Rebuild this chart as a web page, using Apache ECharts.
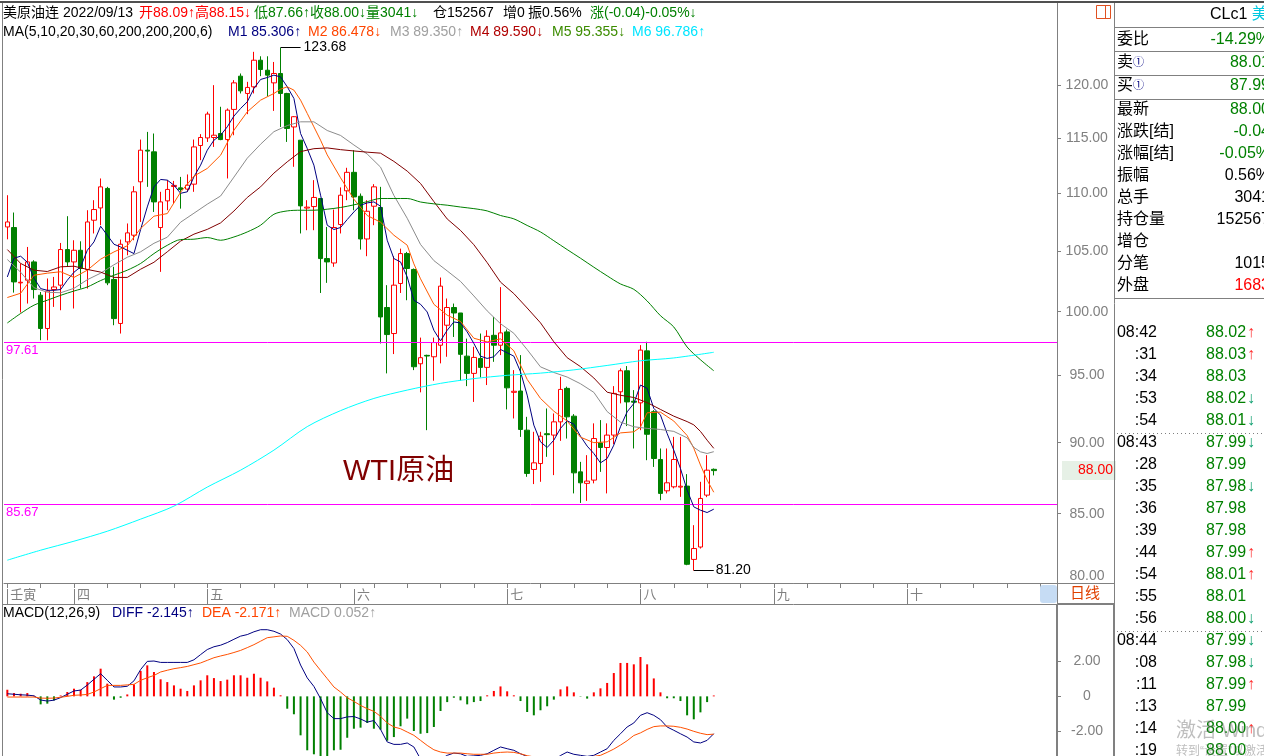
<!DOCTYPE html>
<html><head><meta charset="utf-8">
<script src="https://cdn.jsdelivr.net/npm/echarts@6/dist/echarts.min.js"></script>
<style>html,body{margin:0;padding:0;background:#fff;overflow:hidden}#c{width:1264px;height:756px}</style>
</head><body><div id="c"></div>
<script>
// ---------------- DATA ----------------
const slotCount = 158;
const monthLabels = {0:'壬寅', 10:'四', 30:'五', 52:'六', 75:'七', 95:'八', 115:'九', 135:'十'};
const priceTicks = [85, 90, 95, 100, 105, 110, 115, 120];
const macdTicks = [-2, 0, 2];

const openP = [107.06,107.01,102.35,102.57,104.09,101.34,98.66,101.80,102.16,105.13,104.09,105.07,103.46,107.64,108.71,110.43,102.63,99.06,105.78,106.35,
111.02,113.88,113.73,107.01,109.33,110.60,110.48,110.37,110.81,114.31,115.01,115.05,115.42,114.86,117.68,120.87,119.20,119.84,122.43,121.45,
120.22,121.13,119.20,116.03,114.80,108.70,108.83,109.54,104.37,104.00,107.27,110.22,111.87,109.74,106.03,108.86,108.75,100.34,98.26,102.30,
104.79,103.46,95.90,96.55,96.44,97.34,98.92,100.34,99.90,96.49,95.16,96.31,95.62,98.12,97.34,98.39,93.72,93.82,90.91,88.08,
88.50,90.65,90.55,91.52,94.02,91.94,87.91,87.10,87.33,89.98,89.65,90.55,93.76,95.36,93.05,92.93,96.90,92.27,88.79,86.58,
86.86,86.84,86.91,81.93,82.75,86.28,88.09];
const closeP = [107.49,102.43,102.40,104.09,101.80,98.66,101.68,102.01,105.13,104.09,105.07,103.54,107.49,108.57,110.57,102.35,99.45,105.58,106.55,110.13,
113.88,113.80,109.24,109.24,110.34,110.70,110.34,110.72,114.18,115.05,117.24,115.26,114.86,117.61,120.22,119.45,119.78,122.43,121.52,120.97,
121.13,119.20,115.89,116.99,108.89,108.78,109.63,104.37,104.09,107.01,109.83,111.87,109.68,106.03,108.42,110.57,99.58,98.18,102.16,104.79,
103.54,95.67,96.37,96.50,97.55,102.08,100.34,99.90,96.63,95.16,96.39,95.62,98.04,97.34,98.31,94.06,93.80,90.96,87.80,88.55,
90.47,90.58,91.52,93.94,91.89,87.84,87.14,87.26,90.30,89.65,90.55,93.64,95.36,93.00,92.98,96.96,90.61,88.86,86.40,87.14,
88.79,86.90,81.61,82.65,86.05,88.03,88.00];
const lowP = [106.00,101.55,99.94,100.66,101.07,97.73,97.73,100.39,100.12,103.68,100.26,101.88,101.88,106.50,107.21,102.16,98.92,98.26,104.65,105.92,
107.49,110.57,108.36,103.26,108.51,109.10,108.65,110.13,110.13,112.97,114.64,114.18,114.80,111.32,115.26,119.20,117.23,119.20,120.87,118.94,
117.54,116.03,114.64,112.37,106.50,106.78,106.78,101.52,102.35,103.68,106.50,109.39,108.51,105.13,104.57,107.21,97.48,95.16,96.65,101.52,
100.93,95.41,93.72,90.91,94.60,95.93,96.44,97.99,94.60,94.19,93.00,94.85,94.27,96.05,96.57,92.44,91.77,90.42,87.56,87.05,
87.21,88.98,87.68,90.13,90.30,86.40,85.74,85.88,87.10,87.91,86.40,89.89,92.89,91.21,89.58,90.91,88.74,88.26,85.93,86.40,
86.75,86.16,81.55,81.20,82.65,86.14,87.66];
const highP = [109.83,108.31,103.96,105.35,104.23,101.60,102.71,102.84,105.69,107.99,105.92,105.83,108.51,109.39,111.32,110.57,103.68,105.98,107.36,110.63,
114.86,115.57,115.42,110.13,111.17,111.10,111.46,111.68,114.86,115.36,117.46,120.00,117.93,117.77,120.48,121.13,120.32,123.26,122.82,122.82,
122.26,123.68,119.26,117.05,114.80,109.39,111.17,109.54,107.06,108.57,110.52,112.28,113.88,109.98,109.39,110.81,110.57,102.16,104.57,105.21,
104.93,103.54,97.94,96.60,97.94,102.79,101.07,100.66,99.90,97.86,97.22,98.26,98.52,99.58,102.00,98.58,95.41,96.57,91.89,90.79,
90.79,92.51,92.14,94.90,94.15,92.09,88.62,89.10,91.41,91.65,91.41,94.19,95.54,95.72,93.89,97.35,97.61,92.39,89.58,89.58,
90.42,90.42,87.75,84.22,87.21,89.10,88.15];

const ma5 = [102.84,104.40,104.57,104.06,102.74,101.88,101.74,101.74,101.80,102.57,103.23,103.67,105.07,105.78,107.12,106.35,105.58,105.35,105.07,104.79,
106.84,108.80,110.57,111.23,111.17,110.72,110.00,110.13,111.47,112.52,113.88,114.80,115.26,116.04,117.05,117.77,118.40,119.68,120.55,120.74,
120.97,120.80,119.84,118.72,115.42,114.04,112.52,109.83,107.21,106.84,107.01,107.70,108.36,108.95,109.15,109.24,108.86,105.92,104.37,104.09,
102.84,100.93,100.60,99.98,98.52,97.68,98.52,99.18,99.10,98.39,97.48,96.49,96.31,96.44,97.01,96.75,96.49,95.28,93.51,91.28,
90.06,89.65,90.18,91.04,91.60,91.35,90.47,89.75,89.22,88.55,88.86,89.82,91.16,92.26,92.88,94.27,94.02,92.52,92.02,90.67,
89.46,88.15,86.63,85.47,85.24,85.08,85.31];
// [candle index, value] read at sampled candles
const ma10 = [[0,101.15],[2,101.50],[4,102.98],[6,103.15],[8,103.27],[10,102.80],[12,103.40],[14,104.32],[16,104.93],[18,105.45],[20,106.93],[22,107.99],[24,108.22],[26,110.10],[28,111.53],[30,112.22],[32,113.42],[34,115.73],[36,117.45],[38,118.56],[40,119.20],[41,119.61],[42,119.84],[43,119.52],[44,118.56],[45,117.30],[46,116.04],[47,114.80],[48,113.45],[50,111.38],[52,109.48],[54,108.05],[56,107.47],[58,106.35],[60,105.50],[61,103.93],[62,102.68],[64,100.60],[66,99.72],[68,99.22],[70,97.89],[72,97.60],[74,97.84],[76,96.91],[78,94.70],[80,93.26],[82,92.31],[84,91.58],[86,90.40],[88,90.00],[90,90.06],[92,90.71],[94,90.79],[95,91.13],[96,92.19],[98,92.24],[100,91.58],[102,90.52],[103,89.60],[104,88.40],[105,87.33],[106,86.48]];
const ma20 = [[0,104.29],[2,103.23],[4,101.95],[6,101.58],[8,101.54],[10,101.90],[12,102.61],[14,103.15],[16,103.85],[18,104.48],[20,104.94],[22,105.66],[24,106.18],[26,107.47],[28,108.25],[30,109.04],[32,109.76],[34,111.44],[36,113.15],[38,114.43],[40,115.59],[42,116.16],[44,116.51],[46,116.51],[48,115.70],[50,115.24],[52,114.36],[54,113.53],[56,112.34],[58,109.81],[60,107.81],[62,105.56],[64,104.20],[66,103.34],[68,102.47],[70,101.28],[72,100.07],[74,99.04],[76,98.28],[78,97.00],[80,95.66],[82,95.23],[84,94.88],[86,94.37],[88,93.72],[90,92.28],[92,91.50],[94,91.16],[96,91.04],[98,90.96],[100,90.82],[102,90.35],[103,89.66],[104,89.34],[105,89.22],[106,89.35]];
const ma30 = [[0,105.13],[2,103.96],[4,103.40],[6,103.29],[8,103.68],[10,103.73],[12,103.46],[14,103.24],[16,102.80],[18,102.80],[20,103.48],[22,104.06],[24,104.94],[26,105.85],[28,106.44],[30,106.85],[32,107.41],[34,108.44],[36,109.63],[38,110.57],[40,111.80],[42,112.82],[44,113.75],[46,114.02],[48,114.09],[50,113.93],[52,113.81],[54,113.70],[56,113.61],[58,112.86],[60,111.98],[62,110.87],[64,109.27],[66,107.75],[68,106.76],[70,105.54],[72,104.03],[74,102.41],[76,101.47],[78,100.30],[80,99.11],[82,97.61],[84,96.37],[86,95.68],[88,94.81],[90,93.73],[92,93.50],[94,93.33],[96,92.95],[98,92.44],[100,91.94],[102,91.54],[103,91.30],[104,90.82],[105,90.18],[106,89.59]];
const ma60 = [[0,99.10],[2,99.86],[4,100.53],[6,100.93],[8,101.33],[10,101.68],[12,102.01],[14,102.54],[16,102.98],[18,103.40],[20,103.96],[22,104.79],[24,105.49],[26,105.98],[28,106.01],[30,106.15],[32,105.92],[34,106.20],[36,106.63],[38,107.21],[40,108.16],[42,108.45],[44,108.51],[46,108.51],[48,108.60],[50,108.75],[52,108.98],[54,109.26],[56,109.54],[58,109.54],[60,109.54],[62,109.23],[64,109.07],[66,108.95],[68,108.79],[70,108.65],[72,108.45],[74,108.05],[76,107.76],[78,107.19],[80,106.63],[82,105.88],[84,105.13],[86,104.40],[88,103.65],[90,102.93],[92,102.26],[94,101.82],[96,100.87],[98,99.68],[100,98.78],[102,97.20],[104,96.21],[106,95.36]];
const ma200 = [[0,81.88],[5,82.54],[10,83.14],[15,83.81],[20,84.63],[25,85.52],[30,86.84],[35,88.03],[40,89.46],[45,91.17],[50,92.35],[55,93.26],[60,93.89],[65,94.40],[70,94.76],[75,95.01],[80,95.18],[85,95.43],[90,95.77],[95,96.13],[100,96.35],[106,96.79]];

const macdHist = [0.38,0.19,0.15,0.19,0.03,-0.46,-0.42,-0.23,0.05,0.25,0.44,0.38,0.82,1.15,1.59,0.73,-0.19,-0.08,0.11,0.69,
1.46,1.78,1.40,0.98,0.82,0.63,0.44,0.31,0.63,0.92,1.21,1.05,0.88,0.96,1.21,1.21,1.07,1.30,1.07,0.86,
0.50,0.06,-0.71,-1.03,-2.24,-3.10,-3.33,-3.45,-3.45,-3.10,-3.07,-2.38,-1.86,-1.80,-1.53,-1.86,-1.92,-2.55,-2.34,-1.72,
-1.28,-1.99,-2.15,-2.11,-1.76,-0.84,-0.33,-0.08,-0.23,-0.46,-0.33,-0.27,0.06,0.31,0.57,0.29,0.06,-0.27,-0.90,-1.09,
-0.80,-0.57,-0.19,0.40,0.57,0.23,-0.02,-0.13,0.23,0.46,0.77,1.34,1.92,1.92,1.84,2.26,1.84,1.03,0.23,-0.11,
-0.11,-0.27,-1.09,-1.32,-0.92,-0.33,0.05];
const diff = [0.15,0.12,0.09,0.07,0.03,-0.21,-0.27,-0.22,-0.07,0.12,0.31,0.36,0.65,0.98,1.30,0.92,0.54,0.54,0.58,0.89,
1.54,2.01,2.03,1.95,1.95,1.95,1.95,1.95,2.10,2.40,2.69,2.85,2.94,3.09,3.28,3.46,3.55,3.71,3.83,3.83,
3.74,3.58,3.26,2.75,1.80,1.06,0.57,-0.13,-0.94,-1.28,-1.28,-1.18,-1.16,-1.30,-1.48,-1.39,-1.90,-2.62,-2.76,-2.76,
-2.68,-2.91,-3.60,-3.87,-3.95,-3.62,-3.39,-3.26,-3.30,-3.45,-3.42,-3.39,-3.30,-3.10,-2.91,-3.01,-3.10,-3.30,-3.45,-3.90,
-3.92,-3.86,-3.68,-3.40,-3.20,-3.33,-3.39,-3.45,-3.39,-3.20,-3.01,-2.53,-2.15,-1.76,-1.53,-1.09,-0.94,-1.09,-1.34,-1.76,
-1.95,-2.15,-2.34,-2.62,-2.68,-2.53,-2.145];
const dea = [-0.04,-0.04,-0.04,-0.04,-0.04,-0.10,-0.11,-0.10,-0.05,0.00,0.06,0.08,0.11,0.25,0.44,0.63,0.63,0.63,0.66,0.69,
0.92,1.07,1.20,1.40,1.50,1.59,1.65,1.72,1.82,1.92,2.07,2.22,2.32,2.41,2.52,2.64,2.80,2.97,3.17,3.37,
3.42,3.47,3.45,3.22,2.93,2.55,1.97,1.49,1.02,0.54,0.25,-0.08,-0.29,-0.52,-0.71,-0.86,-1.15,-1.53,-1.76,-1.86,
-2.05,-2.24,-2.53,-2.82,-3.07,-3.20,-3.26,-3.26,-3.26,-3.30,-3.33,-3.33,-3.33,-3.26,-3.22,-3.20,-3.22,-3.30,-3.41,-3.48,
-3.54,-3.58,-3.60,-3.58,-3.55,-3.52,-3.50,-3.48,-3.45,-3.39,-3.22,-3.03,-2.80,-2.55,-2.25,-2.10,-1.90,-1.74,-1.70,-1.70,
-1.72,-1.78,-1.88,-2.01,-2.12,-2.20,-2.171];

const supportLevels = [97.61, 85.67];
const lastPrice = 88.00;
const peak = {idx: 41, value: 123.68};
const trough = {idx: 103, value: 81.20};

// ---------------- BUILD ----------------
const F = "'Liberation Sans', Arial, 'Noto Sans CJK SC', sans-serif";
const categories = Array.from({length: slotCount}, (_, i) => String(i));
const kData = openP.map((o, i) => [o, closeP[i], lowP[i], highP[i]]);
const GRAY = '#808080';

function T(x, y, text, fill, size, align, rich) {
  const st = {text, fill, font: size + 'px ' + F, align: align || 'left', verticalAlign: 'middle',
    textAlign: align || 'left', textVerticalAlign: 'middle'};
  if (rich) st.rich = rich;
  return {type: 'text', x, y, z: 100, silent: true, style: st};
}
function L(x1, y1, x2, y2, stroke, lw, dash) {
  const st = {stroke: stroke || GRAY, lineWidth: lw || 1};
  if (dash) st.lineDash = dash;
  return {type: 'line', z: 90, silent: true, shape: {x1, y1, x2, y2}, style: st};
}
function maLine(name, pairs, color, smooth) {
  return {name, type: 'line', xAxisIndex: 0, yAxisIndex: 0, data: pairs, symbol: 'none',
    smooth: smooth || false, connectNulls: true, z: 5,
    lineStyle: {color, width: 1}, itemStyle: {color}, emphasis: {disabled: true}};
}

const graphics = [];
// header row 1
graphics.push(T(3, 13, '美原油连', '#000', 14));
graphics.push(T(63, 13, '2022/09/13', '#000', 14));
graphics.push(T(139, 13, '开88.09↑高88.15↓', '#ff0000', 14));
graphics.push(T(254, 13, '低87.66↑收88.00↓量3041↓', '#008000', 14));
graphics.push(T(433, 13, '仓152567', '#000', 14));
graphics.push(T(503, 13, '增0', '#000', 14));
graphics.push(T(528, 13, '振0.56%', '#000', 14));
graphics.push(T(590, 13, '涨(-0.04)-0.05%↓', '#008000', 14));
// header row 2
graphics.push(T(3, 32, 'MA(5,10,20,30,60,200,200,200,6)', '#000', 14));
graphics.push(T(228, 32, 'M1 85.306↑', '#000080', 14));
graphics.push(T(308, 32, 'M2 86.478↓', '#ff4500', 14));
graphics.push(T(390, 32, 'M3 89.350↑', '#a0a0a0', 14));
graphics.push(T(470, 32, 'M4 89.590↓', '#b00000', 14));
graphics.push(T(552, 32, 'M5 95.355↓', '#3c8c00', 14));
graphics.push(T(632, 32, 'M6 96.786↑', '#00e5ff', 14));
// MACD header
graphics.push(T(3, 613, 'MACD(12,26,9)', '#000', 14));
graphics.push(T(112, 613, 'DIFF -2.145↑', '#000080', 14));
graphics.push(T(202, 613, 'DEA -2.171↑', '#ff4500', 14));
graphics.push(T(289, 613, 'MACD 0.052↑', '#a0a0a0', 14));
// chart title
graphics.push(T(343, 472, 'WTI原油', '#800000', 29));
// clamped bottom price label
graphics.push(T(1087, 576, '80.00', GRAY, 14, 'center'));
graphics.push(T(1070, 594, '日线', '#e04000', 15));
graphics.push({type: 'rect', z: 90, silent: true, shape: {x: 1040, y: 585, width: 17, height: 18, r: 3}, style: {fill: '#c6dcf4'}});
// small icon
graphics.push({type: 'rect', z: 90, silent: true, shape: {x: 1096.5, y: 5.5, width: 14, height: 13}, style: {fill: 'none', stroke: '#e05020', lineWidth: 1}});
graphics.push(L(1105.5, 5.5, 1105.5, 18.5, '#e05020', 1));
// frame lines
graphics.push(L(0, 2, 1264, 2, '#505050', 2));
graphics.push(L(2.5, 3, 2.5, 756, GRAY, 1));
graphics.push(L(3, 604.5, 1057, 604.5, GRAY, 1));
graphics.push(L(1057, 583.5, 1114, 583.5, GRAY, 1));
graphics.push(L(1057.5, 583, 1057.5, 604, GRAY, 1));
graphics.push(L(1114.5, 3, 1114.5, 604, GRAY, 1));
graphics.push(L(1057, 604, 1115, 604, GRAY, 2));
graphics.push(L(1057, 604, 1057, 756, GRAY, 2));
graphics.push(L(1114, 604, 1114, 756, GRAY, 2));
// right info table
[27.5, 51.5, 75.5, 99.5, 298.5].forEach(y => graphics.push(L(1114, y, 1264, y, GRAY, 1)));
graphics.push(T(1210, 15, 'CLc1 {c|美原油连}', '#000', 16, 'left', {c: {fill: '#00c8e0', font: '16px ' + F}}));
const circ = {c: {fill: '#000080', font: '11px ' + F}};
const infoRows = [
  [40, '委比', '-14.29%', '#008000'], [63, '卖{c|①}', '88.01', '#008000'], [86, '买{c|①}', '87.99', '#008000'],
  [110, '最新', '88.00', '#008000'], [132, '涨跌[结]', '-0.04', '#008000'], [154, '涨幅[结]', '-0.05%', '#008000'],
  [176, '振幅', '0.56%', '#000'], [198, '总手', '3041', '#000'], [220, '持仓量', '152567', '#000'],
  [242, '增仓', '', '#000'], [264, '分笔', '1015', '#000'], [286, '外盘', '1683', '#ff0000']
];
infoRows.forEach(r => {
  graphics.push(T(1117, r[0], r[1], '#000', 16, 'left', circ));
  if (r[2]) graphics.push(T(1270, r[0], r[2], r[3], 16, 'right'));
});
// time & sales
const ticksList = [
  ['08:42','88.02','u'],[':31','88.03','u'],[':34','88.03',''],[':53','88.02','d'],[':54','88.01','d'],
  ['08:43','87.99','d'],[':28','87.99',''],[':35','87.98','d'],[':36','87.98',''],[':39','87.98',''],
  [':44','87.99','u'],[':54','88.01','u'],[':55','88.01',''],[':56','88.00','d'],
  ['08:44','87.99','d'],[':08','87.98','d'],[':11','87.99','u'],[':13','87.99',''],[':14','88.00','u'],[':19','88.00','']
];
ticksList.forEach((r, i) => {
  const y = 333 + i * 22;
  graphics.push(T(1157, y, r[0], '#000', 16, 'right'));
  graphics.push(T(1206, y, r[1], '#008000', 16));
  if (r[2] === 'u') graphics.push(T(1247, y, '↑', '#ff3030', 16));
  if (r[2] === 'd') graphics.push(T(1247, y, '↓', '#10a070', 16));
});
graphics.push(L(1117, 433.5, 1264, 433.5, GRAY, 1, [1, 3]));
graphics.push(L(1117, 631.5, 1264, 631.5, GRAY, 1, [1, 3]));
// OS watermark
graphics.push(T(1176, 731, '激活 Windows', 'rgba(110,110,110,0.45)', 20));
graphics.push(T(1176, 752, '转到“设置”以激活 Windows。', 'rgba(110,110,110,0.45)', 12));

const option = {
  animation: false,
  backgroundColor: '#ffffff',
  textStyle: {fontFamily: F},
  grid: [
    {left: 4, top: 3, width: 1053, height: 580, containLabel: false, outerBoundsMode: 'none'},
    {left: 4, top: 605, width: 1053, height: 195.75, containLabel: false, outerBoundsMode: 'none'}
  ],
  xAxis: [
    {type: 'category', gridIndex: 0, data: categories, boundaryGap: true,
      axisLine: {show: true, onZero: false, lineStyle: {color: GRAY, width: 1}},
      axisTick: {show: true, alignWithLabel: true, length: 5, interval: (i) => i % 5 === 0, lineStyle: {color: GRAY}},
      axisLabel: {show: false}, splitLine: {show: false}},
    {type: 'category', gridIndex: 1, data: categories, boundaryGap: true, position: 'top',
      axisLine: {show: false, onZero: false},
      axisTick: {show: true, alignWithLabel: true, length: 16, interval: (i) => monthLabels[i] !== undefined, lineStyle: {color: GRAY}},
      axisLabel: {show: true, interval: (i) => monthLabels[i] !== undefined, formatter: (v, i) => monthLabels[i] || '',
        color: GRAY, fontSize: 13, align: 'left', margin: 3, padding: [0, 0, 0, 3], fontFamily: F},
      splitLine: {show: false}}
  ],
  yAxis: [
    {type: 'log', gridIndex: 0, position: 'right', min: 80.39, max: 128.2, logBase: 10,
      axisLine: {show: true, onZero: false, lineStyle: {color: GRAY, width: 1}},
      axisTick: {show: true, length: 4, customValues: priceTicks, lineStyle: {color: GRAY}},
      axisLabel: {show: true, customValues: priceTicks, formatter: (v) => Number(v).toFixed(2), color: GRAY, fontSize: 14,
        align: 'center', margin: 30, fontFamily: F},
      splitLine: {show: false}},
    {type: 'value', gridIndex: 1, position: 'right', min: -6, max: 5.25, interval: 1,
      axisLine: {show: true, onZero: false, lineStyle: {color: GRAY, width: 2}},
      axisTick: {show: true, length: 4, customValues: macdTicks, lineStyle: {color: GRAY}},
      axisLabel: {show: true, customValues: macdTicks, formatter: (v) => v === 0 ? '0' : Number(v).toFixed(2), color: GRAY, fontSize: 14,
        align: 'center', margin: 30, fontFamily: F},
      splitLine: {show: false}}
  ],
  series: [
    {name: 'K', type: 'candlestick', xAxisIndex: 0, yAxisIndex: 0, data: kData, barWidth: 5, z: 3,
      itemStyle: {color: '#ffffff', color0: '#008000', borderColor: '#ff0000', borderColor0: '#008000', borderWidth: 1},
      emphasis: {disabled: true},
      markLine: {silent: true, symbol: ['none', 'none'], animation: false,
        data: [
          {yAxis: supportLevels[0], lineStyle: {color: '#ff00ff', width: 1, type: 'solid'},
            label: {show: true, position: 'insideStartBottom', formatter: supportLevels[0].toFixed(2), color: '#ff00ff', fontSize: 13, distance: 2, fontFamily: F}},
          {yAxis: supportLevels[1], lineStyle: {color: '#ff00ff', width: 1, type: 'solid'},
            label: {show: true, position: 'insideStartBottom', formatter: supportLevels[1].toFixed(2), color: '#ff00ff', fontSize: 13, distance: 2, fontFamily: F}},
          {yAxis: lastPrice, lineStyle: {color: 'rgba(0,0,0,0)', width: 0},
            label: {show: true, opacity: 1, position: 'end', formatter: lastPrice.toFixed(2), color: '#ff0000', fontSize: 14, distance: 5,
              backgroundColor: '#e6f0e6', padding: [3, 3, 2, 16], fontFamily: F}},
          [{coord: [peak.idx, peak.value], lineStyle: {color: '#000', width: 1, type: 'solid'},
             label: {show: true, position: 'end', formatter: peak.value.toFixed(2), color: '#000', fontSize: 14, distance: 3, fontFamily: F}},
           {coord: [peak.idx + 3, peak.value]}],
          [{coord: [trough.idx, trough.value], lineStyle: {color: '#000', width: 1, type: 'solid'},
             label: {show: true, position: 'end', formatter: trough.value.toFixed(2), color: '#000', fontSize: 14, distance: 2,
               padding: [0, 0, 15, 0], fontFamily: F}},
           {coord: [trough.idx + 3, trough.value]}]
        ]}},
    maLine('MA5', ma5, '#000080', false),
    maLine('MA10', ma10, '#ff5a00', false),
    maLine('MA20', ma20, '#8c8c8c', false),
    maLine('MA30', ma30, '#800000', false),
    maLine('MA60', ma60, '#008000', 0.3),
    maLine('MA200', ma200, '#00ffff', 0.3),
    {name: 'MACD', type: 'bar', xAxisIndex: 1, yAxisIndex: 1, barWidth: 2, z: 2,
      data: macdHist.map(v => ({value: v, itemStyle: {color: v >= 0 ? '#ff0000' : '#008000'}})),
      emphasis: {disabled: true}},
    {name: 'DIFF', type: 'line', xAxisIndex: 1, yAxisIndex: 1, data: diff, symbol: 'none', z: 4,
      lineStyle: {color: '#000080', width: 1}, emphasis: {disabled: true}},
    {name: 'DEA', type: 'line', xAxisIndex: 1, yAxisIndex: 1, data: dea, symbol: 'none', z: 4,
      lineStyle: {color: '#ff5000', width: 1}, emphasis: {disabled: true}}
  ],
  graphic: graphics
};

const chart = echarts.init(document.getElementById('c'), null, {renderer: 'canvas', width: 1264, height: 756});
chart.setOption(option);
</script>
</body></html>
